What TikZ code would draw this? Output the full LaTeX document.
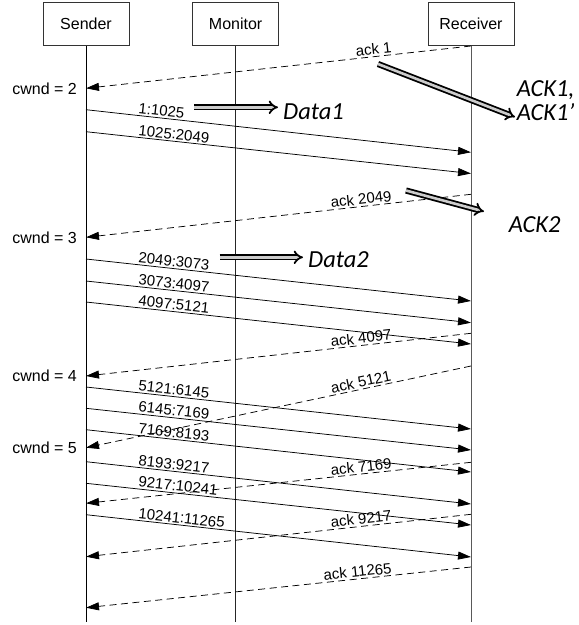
\documentclass[tikz,border=0pt]{standalone}
\usepackage{fontspec}
\setmainfont{Liberation Sans}
\newfontfamily\calfont{Carlito}
\usetikzlibrary{arrows.meta,calc,positioning}

\begin{document}
\begin{tikzpicture}[x=1pt,y=-1pt,
    actor/.style={draw=black!80,line width=0.7pt,minimum width=86pt,minimum height=43pt,inner sep=0pt,font=\fontsize{16}{16}\selectfont},
    life/.style={line width=0.8pt},
    msg/.style={line width=0.75pt,-{Triangle[length=13pt,width=8pt]}},
    ack/.style={msg,dash pattern=on 7pt off 4.5pt},
    lbl/.style={font=\fontsize{15}{15}\selectfont,sloped,inner sep=1.5pt},
    win/.style={font=\fontsize{16}{16}\selectfont,anchor=east,inner sep=0pt},
    note/.style={font=\calfont\itshape\fontsize{24.5}{23.5}\selectfont,anchor=base west,inner sep=0pt,align=left},
    fat/.style={draw=black,line width=1.8pt,double=gray!40,double distance=2.6pt,-{Implies}}]
  \useasboundingbox (0,0) rectangle (579,625);
  % the three parties and their lifelines
  \node[actor] (sender) at (86,24.2) {Sender};
  \node[actor] (monitor) at (235.6,24.2) {Monitor};
  \node[actor] (receiver) at (471,24.2) {Receiver};
  \coordinate (sender end) at (86,621.7);
  \coordinate (monitor end) at (235.6,621.7);
  \coordinate (receiver end) at (471,621.7);
  \draw[life] (sender) -- (sender end);
  \draw[life,black!85] (monitor) -- (monitor end);
  \draw[life,black!65] (receiver) -- (receiver end);
  % congestion window values
  \node[win] (cw2) at (77,88.3) {cwnd = 2};
  \node[win] (cw3) at (77,237.3) {cwnd = 3};
  \node[win] (cw4) at (77,376) {cwnd = 4};
  \node[win] (cw5) at (77,447.7) {cwnd = 5};
  % data segments
  \foreach \ys/\yr/\seg [count=\i] in {109.7/152.3/1:1025, 131.7/173.5/1025:2049,
      259/301/2049:3073, 281/322.7/3073:4097, 302/344/4097:5121,
      387/429/5121:6145, 408.3/450/6145:7169, 429.7/472/7169:8193,
      461.7/504/8193:9217, 483.3/525/9217:10241, 514.7/557/10241:11265} {
    \coordinate (ds\i) at (86,\ys);
    \coordinate (dr\i) at (471,\yr);
    \draw[msg] (ds\i) -- node[lbl,pos=0.13,anchor=south west] {\seg} (dr\i);
  }
  % acknowledgements
  \foreach \yr/\ys/\seg [count=\i] in {46/88.3/ack 1, 194.3/237.3/ack 2049,
      333.3/376/ack 4097, 366/447.7/ack 5121, 462.3/503.3/ack 7169,
      514.3/556.7/ack 9217, 567/607.7/ack 11265} {
    \coordinate (ar\i) at (471,\yr);
    \coordinate (as\i) at (86,\ys);
    \draw[ack] (ar\i) -- node[lbl,pos=0.2,anchor=south east] {\seg} (as\i);
  }
  % notes
  \node[note] (data1) at (283,119) {Data1};
  \node[note] (data2) at (308,267) {Data2};
  \node[note] (ack1) at (516.7,120) {ACK1,\\ACK1’};
  \node[note] (ack2) at (508.7,232) {ACK2};
  \coordinate (f1) at (194,107.3);
  \coordinate (t1) at (278,107.3);
  \coordinate (f2) at (219.7,257.3);
  \coordinate (t2) at (303,257.3);
  \coordinate (f3) at (378,64);
  \coordinate (t3) at (515,117);
  \coordinate (f4) at (406,190.5);
  \coordinate (t4) at (484,211.5);
  \draw[fat] (f1) -- (t1);
  \draw[fat] (f2) -- (t2);
  \draw[fat] (f3) -- (t3);
  \draw[fat] (f4) -- (t4);
\end{tikzpicture}
\end{document}
